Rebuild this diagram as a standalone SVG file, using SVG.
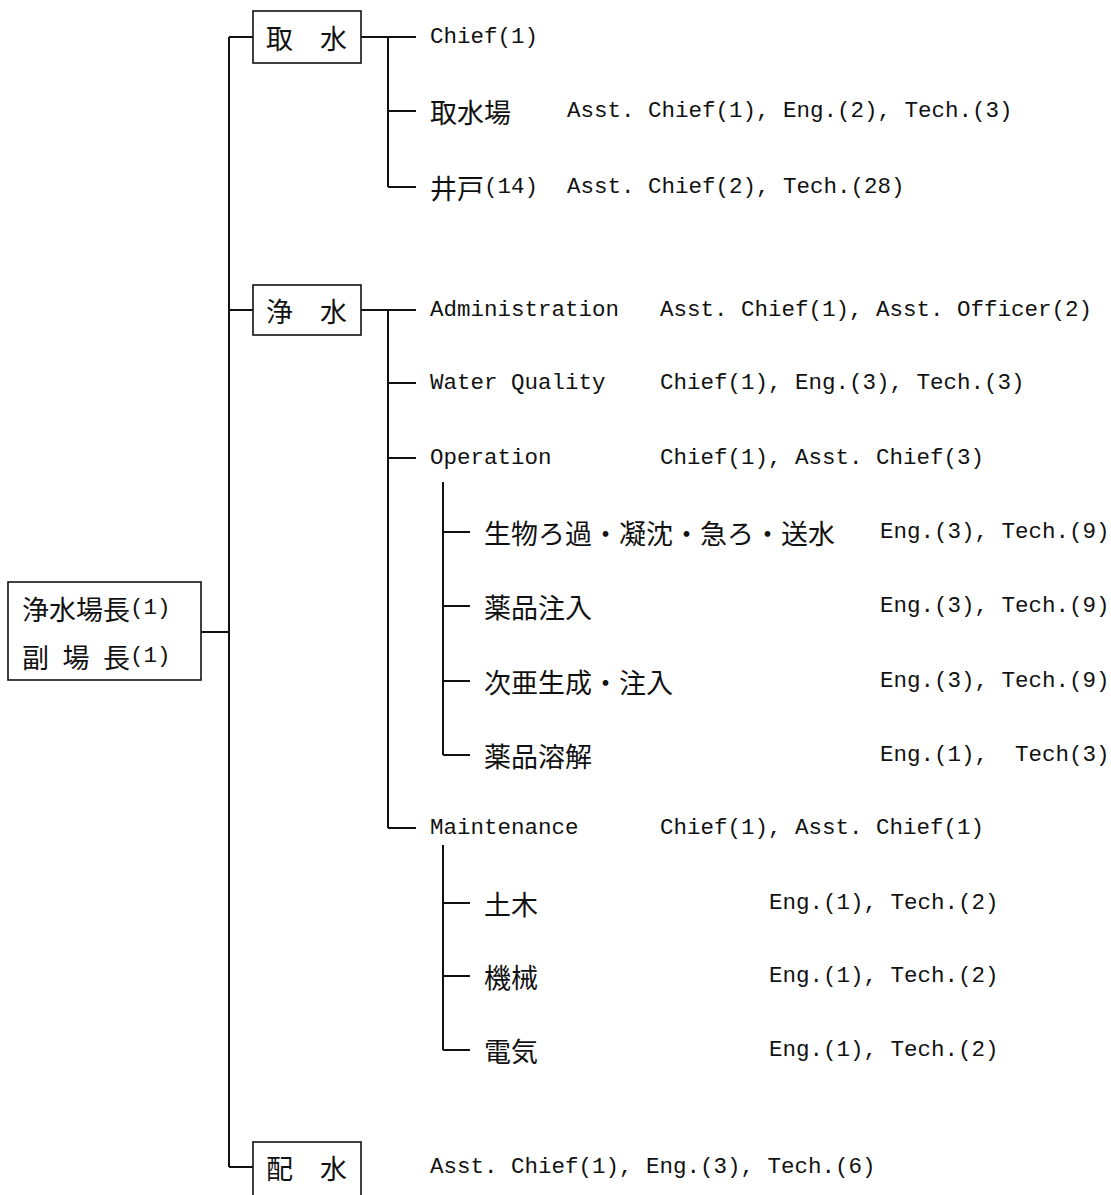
<svg xmlns="http://www.w3.org/2000/svg" width="1111" height="1195" viewBox="0 0 1111 1195">
<style>
.bg{fill:#fff}
.box{fill:#fff;stroke:#111;stroke-width:1.6}
.ln{fill:none;stroke:#111;stroke-width:2}
.t{font-family:"Liberation Mono","Noto Sans CJK JP",monospace;font-size:22.5px;fill:#111;dominant-baseline:central}
.j{font-family:"Noto Sans CJK JP",sans-serif;font-size:27px}
</style>
<rect class="bg" x="0" y="0" width="1111" height="1195"/>
<g id="connectors">
<path class="ln" d="M229 37V1167M201 632H229M229 37H253M229 310H253M229 1167H253"/>
<path class="ln" d="M361 37H416M388 37V187M388 111H416M388 187H416"/>
<path class="ln" d="M361 310H416M388 310V828M388 383H416M388 458H416M388 828H416"/>
<path class="ln" d="M443 482V755M443 532H470M443 606H470M443 681H470M443 755H470"/>
<path class="ln" d="M443 845V1050M443 903H470M443 976H470M443 1050H470"/>
</g>
<g id="root">
<rect class="box" x="8" y="582" width="193" height="98"/>
<text class="t" x="22" y="608"><tspan class="j">浄水場長</tspan>(1)</text>
<text class="t" x="22" y="656"><tspan class="j">副</tspan> <tspan class="j">場</tspan> <tspan class="j">長</tspan>(1)</text>
</g>
<g id="shusui">
<rect class="box" x="253" y="11" width="108" height="52"/>
<text class="t" x="266" y="37"><tspan class="j">取　水</tspan></text>
</g>
<g id="shusui-items">
<text class="t" x="430" y="37">Chief(1)</text>
<text class="t" x="430" y="111"><tspan class="j">取水場</tspan></text>
<text class="t" x="567" y="111">Asst. Chief(1), Eng.(2), Tech.(3)</text>
<text class="t" x="430" y="187"><tspan class="j">井戸</tspan>(14)</text>
<text class="t" x="567" y="187">Asst. Chief(2), Tech.(28)</text>
</g>
<g id="josui">
<rect class="box" x="253" y="285" width="108" height="50"/>
<text class="t" x="266" y="310"><tspan class="j">浄　水</tspan></text>
</g>
<g id="josui-items">
<text class="t" x="430" y="310">Administration</text>
<text class="t" x="660" y="310">Asst. Chief(1), Asst. Officer(2)</text>
<text class="t" x="430" y="383">Water Quality</text>
<text class="t" x="660" y="383">Chief(1), Eng.(3), Tech.(3)</text>
<text class="t" x="430" y="458">Operation</text>
<text class="t" x="660" y="458">Chief(1), Asst. Chief(3)</text>
<text class="t" x="484" y="532"><tspan class="j">生物ろ過・凝沈・急ろ・送水</tspan></text>
<text class="t" x="880" y="532">Eng.(3), Tech.(9)</text>
<text class="t" x="484" y="606"><tspan class="j">薬品注入</tspan></text>
<text class="t" x="880" y="606">Eng.(3), Tech.(9)</text>
<text class="t" x="484" y="681"><tspan class="j">次亜生成・注入</tspan></text>
<text class="t" x="880" y="681">Eng.(3), Tech.(9)</text>
<text class="t" x="484" y="755"><tspan class="j">薬品溶解</tspan></text>
<text class="t" x="880" y="755" xml:space="preserve">Eng.(1),  Tech(3)</text>
<text class="t" x="430" y="828">Maintenance</text>
<text class="t" x="660" y="828">Chief(1), Asst. Chief(1)</text>
<text class="t" x="484" y="903"><tspan class="j">土木</tspan></text>
<text class="t" x="769" y="903">Eng.(1), Tech.(2)</text>
<text class="t" x="484" y="976"><tspan class="j">機械</tspan></text>
<text class="t" x="769" y="976">Eng.(1), Tech.(2)</text>
<text class="t" x="484" y="1050"><tspan class="j">電気</tspan></text>
<text class="t" x="769" y="1050">Eng.(1), Tech.(2)</text>
</g>
<g id="haisui">
<rect class="box" x="253" y="1142" width="108" height="60"/>
<text class="t" x="266" y="1167"><tspan class="j">配　水</tspan></text>
<text class="t" x="430" y="1167">Asst. Chief(1), Eng.(3), Tech.(6)</text>
</g>
</svg>
